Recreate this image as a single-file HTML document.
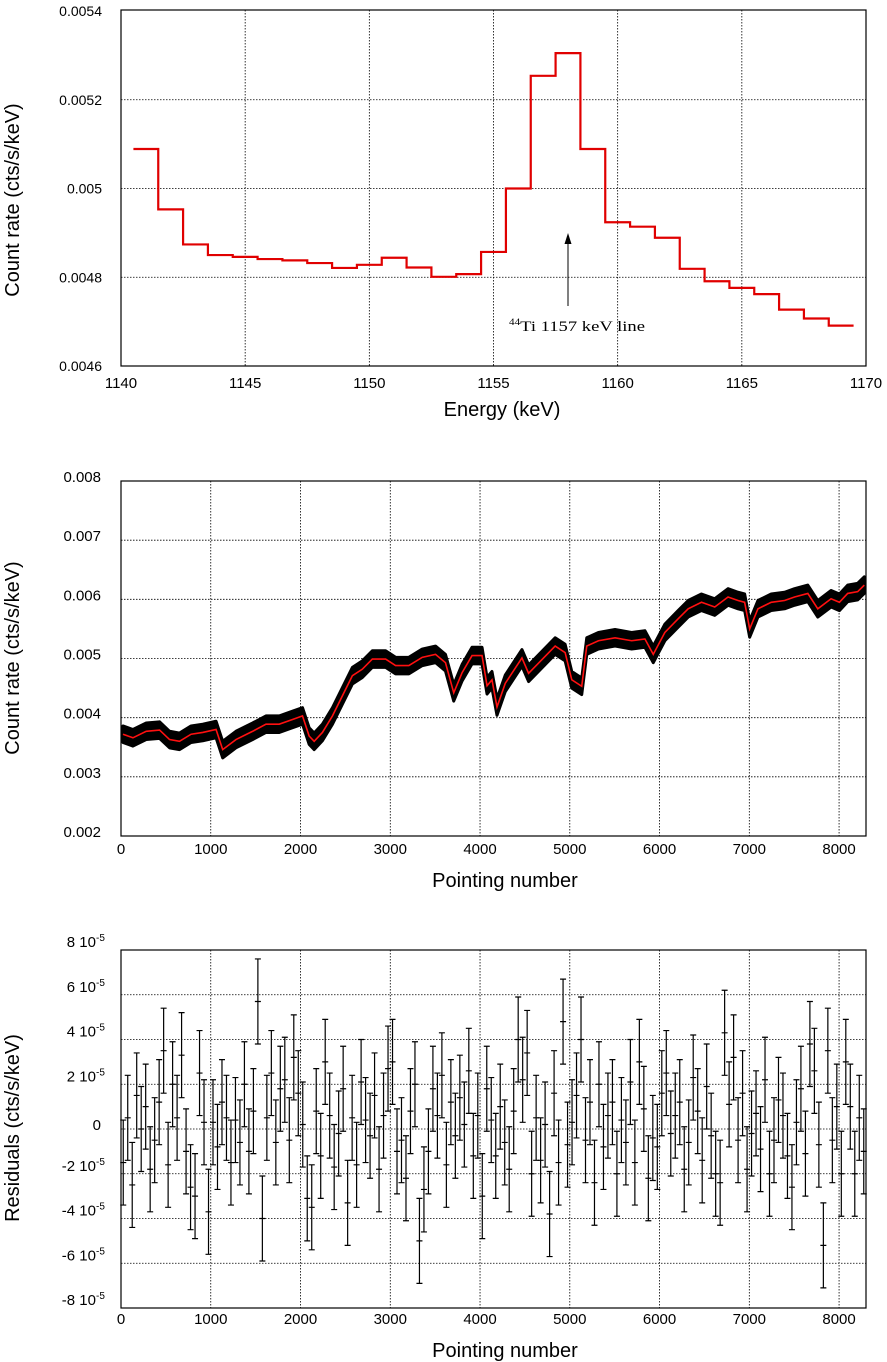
<!DOCTYPE html>
<html><head><meta charset="utf-8"><style>
html,body{margin:0;padding:0;background:#fff;}
svg{display:block;font-family:"Liberation Sans",sans-serif;}
</style></head><body>
<svg id="fig" width="887" height="1362" viewBox="0 0 887 1362" xmlns="http://www.w3.org/2000/svg"></svg>
<script>
// ---------- Panel 1: spectrum ----------
const specEdgesStart = 1140.5;
const specBinWidth = 1;
const specValues = [0.005089,0.004953,0.004874,0.004850,0.004846,0.004841,0.004838,0.004832,0.004821,0.004828,0.004844,0.004822,0.004801,0.004807,0.004857,0.005000,0.005254,0.005305,0.005089,0.004924,0.004914,0.004889,0.004819,0.004791,0.004776,0.004762,0.004727,0.004707,0.004691];
const specXTicks = [1140,1145,1150,1155,1160,1165,1170];
const specYTicks = [0.0046,0.0048,0.005,0.0052,0.0054];
const specYTickLabels = ["0.0046","0.0048","0.005","0.0052","0.0054"];

// ---------- Panel 2: light curve ----------
const lcPointing = [22,133,281,430,541,652,781,911,1059,1133,1281,1467,1615,1763,1911,2022,2096,2152,2244,2356,2467,2578,2689,2800,2948,3059,3207,3356,3504,3615,3707,3800,3911,4022,4078,4133,4189,4281,4467,4541,4689,4837,4948,5022,5133,5189,5319,5504,5689,5837,5930,6059,6207,6319,6467,6615,6763,6874,6948,7004,7096,7244,7393,7504,7652,7763,7911,8004,8096,8207,8281];
const lcRate = [0.00372,0.00366,0.00377,0.00379,0.00363,0.0036,0.00372,0.00375,0.0038,0.00346,0.00363,0.00377,0.00389,0.00389,0.00397,0.00403,0.00369,0.0036,0.00375,0.00403,0.00437,0.00471,0.00482,0.00499,0.00499,0.00488,0.00488,0.00502,0.00507,0.00493,0.00442,0.00476,0.00505,0.00505,0.00454,0.00464,0.00418,0.00458,0.00501,0.00475,0.00498,0.00521,0.0051,0.00464,0.00453,0.00521,0.0053,0.00535,0.0053,0.00533,0.00507,0.00544,0.00567,0.00584,0.00595,0.00587,0.00604,0.00598,0.00595,0.0055,0.00584,0.00595,0.00598,0.00604,0.0061,0.00584,0.00601,0.00595,0.0061,0.00613,0.00624];
const lcErr = 0.00014;
const lcXTicks = [0,1000,2000,3000,4000,5000,6000,7000,8000];
const lcYTicks = [0.002,0.003,0.004,0.005,0.006,0.007,0.008];
const lcYTickLabels = ["0.002","0.003","0.004","0.005","0.006","0.007","0.008"];

// ---------- Panel 3: residuals (units of 1e-5) ----------
const resStart = 25, resStep = 50;
const resValues = [
 -1.5,0.5,-2.5,1.5,0,1,-1.8,-0.5,1.2,3.5,-1.6,2,0.5,3.3,-1,-2.6,-3,2.5,0.3,-3.7,
 0.3,-0.8,1.2,0.5,-1.5,0.4,-0.6,2,-1,0.8,5.7,-4,0.5,2.5,-0.6,1.8,2.2,-0.5,3.2,1.6,
 0.2,-3.1,-3.5,0.8,-1.2,3,0.6,-1.7,-0.2,1.8,-3.3,0.5,-1.6,2.1,0.4,-0.3,1.5,-1.8,0.6,2.7,
 3,-1,-0.5,-2.2,0.8,2,-5,-2.7,-1,1.8,0.6,2.4,-1.6,1.2,-0.3,1.4,0.2,2.6,-1.2,0.6,
 -3,1.8,0.4,-1.2,1,-0.6,-1.8,0.8,4,2.2,3.4,-2,0.5,-1.4,0.2,-3.8,1.6,-1.5,4.8,-0.7,
 0.3,1.5,4,-0.5,1.2,-2.4,2,-0.8,0.6,1.2,-2,0.4,-0.6,2.1,-1.5,3,0.9,-2.2,-0.4,-0.8,
 1.6,2.5,-0.2,0.6,1.2,-1.8,-0.6,2.3,0.8,-1.4,1.9,-0.3,-2,-2.4,4.3,1.1,3.2,-0.5,1.6,-1.8,
 -0.2,0.7,-0.9,2.2,-2,-0.5,1.3,0.6,-1.2,-2.6,0.3,1.8,-1.1,3.8,2.6,-0.7,-5.2,3.5,-0.5,1,
 -2,3,1,-2,0.5,-1];
const resErr = 1.9;
const resXTicks = [0,1000,2000,3000,4000,5000,6000,7000,8000];
const resYTicks = [-8,-6,-4,-2,0,2,4,6,8];

const svg = document.getElementById('fig');
const NS = 'http://www.w3.org/2000/svg';
function mk(tag, attrs, parent){ const e=document.createElementNS(NS,tag); for(const k in attrs) e.setAttribute(k,attrs[k]); (parent||svg).appendChild(e); return e; }
function lin(d0,d1,r0,r1){ return v => r0 + (v-d0)/(d1-d0)*(r1-r0); }

const L=121, R=866;

function frame(g,top,bot,xs,ys,xt,yt){
  const grid = mk('g',{},g);
  
  
  xt.forEach(t=>{ const x=xs(t); if(x>L+1&&x<R-1) mk('line',{x1:x,x2:x,y1:top,y2:bot,stroke:'#000','stroke-width':0.8,'stroke-dasharray':'1.5,1.5'},grid); });
  yt.forEach(t=>{ const y=ys(t); if(y>top+1&&y<bot-1) mk('line',{x1:L,x2:R,y1:y,y2:y,stroke:'#000','stroke-width':0.8,'stroke-dasharray':'1.5,1.5'},grid); });
}
function border(g,top,bot){
  const b = mk('rect',{x:L,y:top,width:R-L,height:bot-top,fill:'none',stroke:'#000','stroke-width':1.2},g);
  
  
}
function text(g,x,y,s,opts){
  const t=mk('text',Object.assign({x:x,y:y,'font-size':15,fill:'#000'},opts||{}),g); t.textContent=s; return t;
}

// ===== Panel 1 =====
{
  const top=10, bot=366;
  const g=mk('g',{});  
  const xs=lin(1140,1170,L,R), ys=lin(0.0046,0.0054,bot,top+1);
  frame(g,top,bot,xs,ys,specXTicks,specYTicks);
  let d='';
  specValues.forEach((v,i)=>{ const x0=xs(specEdgesStart+i*specBinWidth), x1=xs(specEdgesStart+(i+1)*specBinWidth), y=ys(v);
    d += (i===0?'M':'L')+x0+','+y+' L'+x1+','+y+' '; });
  const p=mk('path',{d:d,fill:'none',stroke:'#e00000','stroke-width':2.2},g);
  
  
  border(g,top,bot);
  const yl=mk('g',{},g);  
  specYTicks.forEach((t,i)=>{ text(yl,102,ys(t)+5,specYTickLabels[i],{'text-anchor':'end','font-size':14}); });
  const xl=mk('g',{},g);  
  specXTicks.forEach(t=>{ text(xl,xs(t),388,String(t),{'text-anchor':'middle','font-size':15}); });
  const xt=text(g,502,416,'Energy (keV)',{'text-anchor':'middle','font-size':20});
   
  const yt=text(g,0,0,'Count rate (cts/s/keV)',{'text-anchor':'middle','font-size':20,transform:'translate(19,200) rotate(-90)'});
   
  const ar=mk('g',{},g);  
  mk('line',{x1:568,y1:306,x2:568,y2:240,stroke:'#000','stroke-width':1},ar);
  mk('path',{d:'M568,233 L564.5,244 L571.5,244 Z',fill:'#000'},ar);
  const at=mk('text',{x:509,y:331,'font-size':15,'font-family':'Liberation Serif, serif',textLength:136,lengthAdjust:'spacingAndGlyphs'},ar);
  const sup=mk('tspan',{'font-size':9,dy:-6},at); sup.textContent='44';
  const rest=mk('tspan',{dy:6},at); rest.textContent='Ti 1157 keV line';
}

// ===== Panel 2 =====
{
  const top=481, bot=836;
  const g=mk('g',{});  
  const xs=lin(0,8300,L,R), ys=lin(0.002,0.008,bot,top);
  frame(g,top,bot,xs,ys,lcXTicks,lcYTicks);
  let up='', dn='';
  lcPointing.forEach((p,i)=>{ up += (i===0?'M':'L')+xs(p)+','+ys(lcRate[i]+lcErr)+' '; });
  for(let i=lcPointing.length-1;i>=0;i--){ dn += 'L'+xs(lcPointing[i])+','+ys(lcRate[i]-lcErr)+' '; }
  const band=mk('path',{d:up+dn+'Z',fill:'#000',stroke:'#000','stroke-width':3,'stroke-linejoin':'round'},g);
  
  
  let d='';
  lcPointing.forEach((p,i)=>{ d += (i===0?'M':'L')+xs(p)+','+ys(lcRate[i])+' '; });
  const m=mk('path',{d:d,fill:'none',stroke:'#ff1010','stroke-width':1.6},g);
  
  
  border(g,top,bot);
  const yl=mk('g',{},g);  
  lcYTicks.forEach((t,i)=>{ text(yl,101,ys(t)+1,lcYTickLabels[i],{'text-anchor':'end'}); });
  const xl=mk('g',{},g);  
  lcXTicks.forEach(t=>{ text(xl,xs(t),854,String(t),{'text-anchor':'middle'}); });
  const xt=text(g,505,887,'Pointing number',{'text-anchor':'middle','font-size':20});
   
  const yt=text(g,0,0,'Count rate (cts/s/keV)',{'text-anchor':'middle','font-size':20,transform:'translate(19,658) rotate(-90)'});
   
}

// ===== Panel 3 =====
{
  const top=950, bot=1308;
  const g=mk('g',{});  
  const xs=lin(0,8300,L,R), ys=lin(-8,8,bot,top);
  frame(g,top,bot,xs,ys,resXTicks,resYTicks);
  const bars=mk('g',{stroke:'#000','stroke-width':1.2},g);
  
  
  resValues.forEach((v,i)=>{ const x=xs(resStart+i*resStep), y0=ys(v+resErr), y1=ys(v-resErr), yc=ys(v);
    const b=mk('path',{d:'M'+x+','+y0+'V'+y1+'M'+(x-3)+','+y0+'h6M'+(x-3)+','+y1+'h6M'+(x-3)+','+yc+'h6',fill:'none'},bars);
    
    
  });
  border(g,top,bot);
  const yl=mk('g',{},g);  
  resYTicks.forEach(t=>{
    if(t===0){ text(yl,101,ys(t)+1,'0',{'text-anchor':'end'}); return; }
    const tt=mk('text',{x:96,y:ys(t)-3,'font-size':15,'text-anchor':'end'},yl);
    tt.textContent=t+' 10';
    const s=mk('text',{x:96,y:ys(t)-9,'font-size':10,'text-anchor':'start'},yl); s.textContent='-5';
  });
  const xl=mk('g',{},g);  
  resXTicks.forEach(t=>{ text(xl,xs(t),1324,String(t),{'text-anchor':'middle'}); });
  const xt=text(g,505,1357,'Pointing number',{'text-anchor':'middle','font-size':20});
   
  const yt=text(g,0,0,'Residuals (cts/s/keV)',{'text-anchor':'middle','font-size':20,transform:'translate(19,1128) rotate(-90)'});
   
}
</script>
</body></html>
